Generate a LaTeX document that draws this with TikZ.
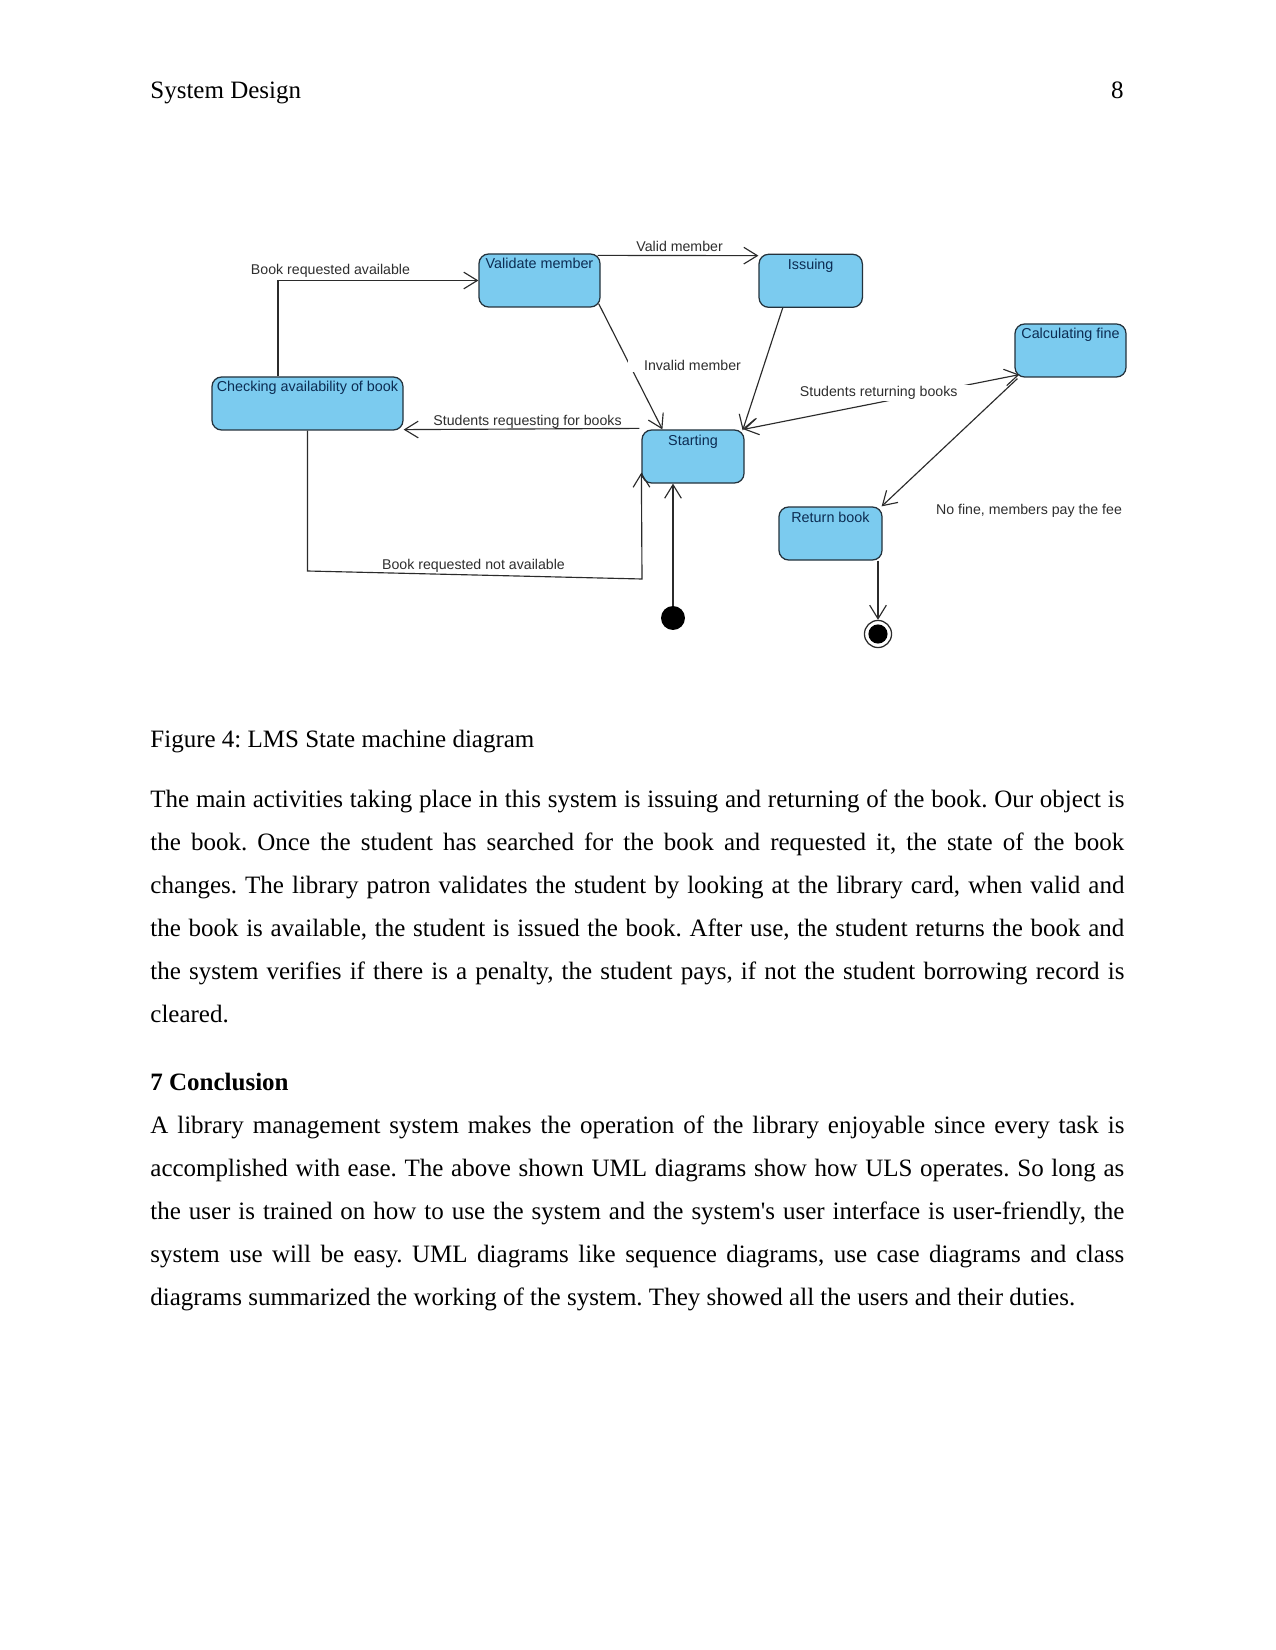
\documentclass[tikz,border=0pt]{standalone}
\usepackage{fontspec}
\setmainfont{Liberation Serif}
\newfontfamily\diagfont{Liberation Sans}
\usetikzlibrary{arrows.meta,calc}
\definecolor{stfill}{HTML}{7BCBEF}
\definecolor{stdraw}{HTML}{24323C}
\definecolor{sttext}{HTML}{0C2C52}
\definecolor{lbl}{HTML}{2E2E2E}
\definecolor{ln}{HTML}{2B2B2B}
\begin{document}
\frenchspacing
\begin{tikzpicture}[x=0.48pt,y=-0.48pt,
  state/.style={draw=stdraw, line width=0.6pt, fill=stfill, rounded corners=4.6pt,
    inner xsep=0pt, inner ysep=0pt, text height=7.2pt, text depth=18.24pt,
    minimum height=25.44pt, font=\diagfont\fontsize{6.9}{8}\selectfont, text=sttext},
  tlabel/.style={font=\diagfont\fontsize{6.8}{8}\selectfont, text=lbl, anchor=base, inner sep=0pt},
  conn/.style={draw=ln, line width=0.55pt, -{Straight Barb[length=6.5pt,width=8pt]}},
  biconn/.style={draw=ln, line width=0.55pt, {Straight Barb[length=6.5pt,width=8pt]}-{Straight Barb[length=6.5pt,width=8pt]}},
  body/.style={font=\fontsize{12}{14}\selectfont, anchor=base west, inner sep=0pt},
]
\fill[white] (0,0) rectangle (1275,1650);
\useasboundingbox (0,0) rectangle (1275,1650);

% header
\node[body] (hd) at (150,99) {System Design};
\node[body, anchor=base east] (pg) at (1124,99) {8};

% states
\node[state, minimum width=91.68pt] (chk) at (307.5,403.5) {Checking availability of book};
\node[state, minimum width=58.08pt] (val) at (539.5,280.5) {Validate member};
\node[state, minimum width=49.6pt] (iss) at (810.7,280.8) {Issuing};
\node[state, minimum width=53.28pt] (calc) at (1070.5,350.5) {Calculating fine};
\node[state, minimum width=48.96pt] (sta) at (693,456.5) {Starting};
\node[state, minimum width=49.44pt] (ret) at (830.5,533.5) {Return book};
\node[circle, fill=black, inner sep=0pt, minimum size=11.5pt] (ini) at (673,618) {};
\node[circle, draw=ln, line width=0.6pt, fill=white, inner sep=0pt, minimum size=13pt] (fin) at (878,634) {};
\fill[black] (fin.center) circle (4.6pt);

% helper coordinates
\coordinate (bra) at (278,281);
\coordinate (na1) at (307,571);
\coordinate (na2) at (642,579);

% connectors
\draw[conn] (chk.north -| bra) |- (val.west);
\draw[conn] ($(val.north east)+(-3,2)$) -- ($(iss.north west)+(0,2)$);
\draw[conn] ($(val.south east)+(-2,-4)$) -- ($(sta.north west)+(21,0)$);
\draw[conn] ($(iss.south)+(-28,0)$) -- ($(sta.north east)+(-2,1)$);
\draw[biconn] ($(sta.north east)+(-1,0)$) -- ($(calc.south west)+(5,-3)$);
\draw[conn] ($(calc.south west)+(3,1)$) -- ($(ret.north east)+(-1,0)$);
\draw[conn] (ret.south -| fin.north) -- (fin.north);
\draw[conn] (ini.north) -- (sta.south -| ini.north);
\draw[conn] (chk.south) -- (chk.south |- na1) -- (na2) -- ($(sta.south west)+(0,-11)$);
\draw[conn] ($(sta.north west)+(-2,-1)$) -- ($(chk.south east)+(0,-1)$);

% connector labels
\node[tlabel] (l1) at (330.5,275) {Book requested available};
\node[tlabel] (l2) at (679.6,252) {Valid member};
\node[tlabel, fill=white, inner xsep=7.5pt, inner ysep=0.4pt] (l3) at (692.5,371) {Invalid member};
\node[tlabel] (l4) at (527.5,425) {Students requesting for books};
\node[tlabel, fill=white, inner xsep=7.5pt, inner ysep=0.6pt] (l5) at (878.7,397) {Students returning books};
\node[tlabel] (l6) at (1029,514) {No fine, members pay the fee};
\node[tlabel] (l7) at (473.5,569) {Book requested not available};

% caption and body text
\node[body] (cap) at (150,747) {Figure 4: LMS State machine diagram};
\node[body] (a1) at (150,807) {\makebox[467.5pt][s]{The main activities taking place in this system is issuing and returning of the book. Our object is}};
\node[body] (a2) at (150,850.1) {\makebox[467.5pt][s]{the book. Once the student has searched for the book and requested it, the state of the book}};
\node[body] (a3) at (150,893.2) {\makebox[467.5pt][s]{changes. The library patron validates the student by looking at the library card, when valid and}};
\node[body] (a4) at (150,936.3) {\makebox[467.5pt][s]{the book is available, the student is issued the book. After use, the student returns the book and}};
\node[body] (a5) at (150,979.4) {\makebox[467.5pt][s]{the system verifies if there is a penalty, the student pays, if not the student borrowing record is}};
\node[body] (a6) at (150,1022.5) {cleared.};
\node[body] (sec) at (150,1090) {\bfseries 7 Conclusion};
\node[body] (b1) at (150,1133) {\makebox[467.5pt][s]{A library management system makes the operation of the library enjoyable since every task is}};
\node[body] (b2) at (150,1176.1) {\makebox[467.5pt][s]{accomplished with ease. The above shown UML diagrams show how ULS operates. So long as}};
\node[body] (b3) at (150,1219.2) {\makebox[467.5pt][s]{the user is trained on how to use the system and the system\textquotesingle s user interface is user-friendly, the}};
\node[body] (b4) at (150,1262.3) {\makebox[467.5pt][s]{system use will be easy. UML diagrams like sequence diagrams, use case diagrams and class}};
\node[body] (b5) at (150,1305.4) {diagrams summarized the working of the system. They showed all the users and their duties.};
\end{tikzpicture}
\end{document}
